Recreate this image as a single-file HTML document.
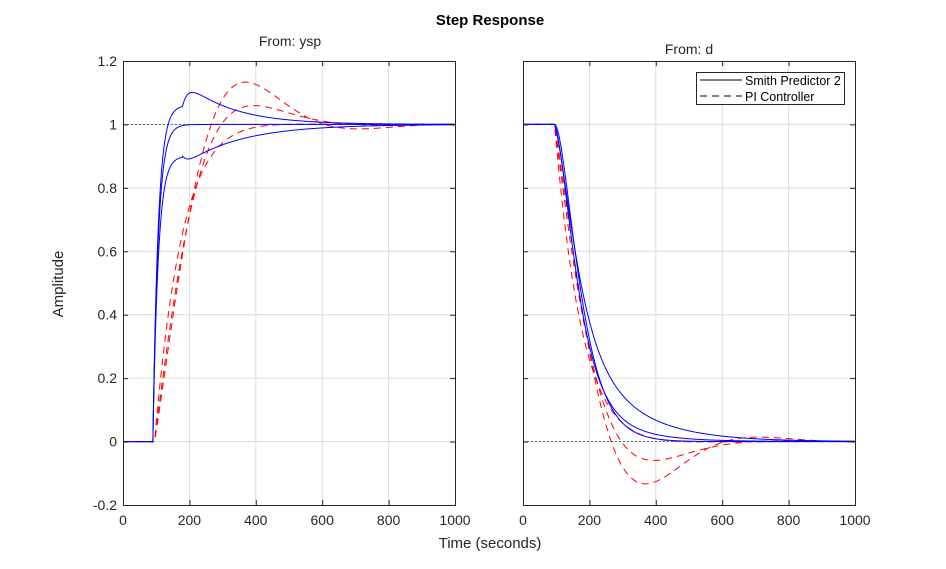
<!DOCTYPE html>
<html><head><meta charset="utf-8"><style>
body{margin:0;background:#fff;}
svg{display:block;font-family:"Liberation Sans",sans-serif;}
</style></head><body>
<svg id="s" width="946" height="569" xmlns="http://www.w3.org/2000/svg">
<rect width="946" height="569" fill="#fff"/>
<g id="grid" stroke="#dcdcdc" stroke-width="1"></g>
<g id="curves" fill="none" stroke-width="1"></g>
<g id="axes" stroke="#262626" stroke-width="1" fill="none"></g>
<g id="labels" font-size="14" fill="#262626"></g>
<text x="490" y="25" text-anchor="middle" font-size="15" font-weight="bold" fill="#000">Step Response</text>
<text x="290" y="46" text-anchor="middle" font-size="14" fill="#262626">From: ysp</text>
<text x="689" y="54" text-anchor="middle" font-size="14" fill="#262626">From: d</text>
<text x="490" y="548" text-anchor="middle" font-size="15" fill="#262626">Time (seconds)</text>
<text transform="translate(63,284) rotate(-90)" text-anchor="middle" font-size="15" fill="#262626">Amplitude</text>
<g>
<rect x="696.5" y="72.5" width="148" height="32" fill="#fff" stroke="#262626"/>
<line x1="700" y1="80" x2="742" y2="80" stroke="#000"/>
<line x1="700" y1="96" x2="742" y2="96" stroke="#000" stroke-dasharray="7,5"/>
<text x="745" y="85" font-size="12.5" fill="#000">Smith Predictor 2</text>
<text x="745" y="101" font-size="12.5" fill="#000">PI Controller</text>
</g>
</svg>
<script>
var NS="http://www.w3.org/2000/svg";
function el(p,t,a,txt){var e=document.createElementNS(NS,t);for(var k in a)e.setAttribute(k,a[k]);if(txt!==undefined)e.textContent=txt;document.getElementById(p).appendChild(e);return e;}
var Y0=61,Y1=505;
function Y(v){return Y1-(v+0.2)/1.4*(Y1-Y0);}
var axs=[123,523],W=332;
function X(i,t){return axs[i]+t/1000*W;}
axs.forEach(function(ax,i){
  for(var t=200;t<1000;t+=200){var x=X(i,t);el("grid","line",{x1:x,y1:Y0,x2:x,y2:Y1});}
  for(var v=0;v<1.2;v+=0.2){var y=Y(v);el("grid","line",{x1:ax,y1:y,x2:ax+W,y2:y});}
  el("axes","rect",{x:ax+0.5,y:Y0+0.5,width:W,height:Y1-Y0});
  for(var t=0;t<=1000;t+=200){var x=X(i,t)+0.5;el("axes","line",{x1:x,y1:Y1,x2:x,y2:Y1-5});el("axes","line",{x1:x,y1:Y0,x2:x,y2:Y0+5});
    el("labels","text",{x:X(i,t),y:525,"text-anchor":"middle"},String(t));}
  for(var k=-1;k<=6;k++){var v=k*0.2,y=Y(v)+0.5;el("axes","line",{x1:ax,y1:y,x2:ax+5,y2:y});el("axes","line",{x1:ax+W,y1:y,x2:ax+W-5,y2:y});
    if(i==0){var s=(Math.abs(v-Math.round(v))<1e-9)?String(Math.round(v)):v.toFixed(1);el("labels","text",{x:117,y:Y(v)+5,"text-anchor":"end"},s);}}
});
el("curves","line",{x1:X(0,0),y1:Y(1),x2:X(0,1000),y2:Y(1),stroke:"#555","stroke-dasharray":"2,2","stroke-width":0.8});
el("curves","line",{x1:X(1,0),y1:Y(0),x2:X(1,1000),y2:Y(0),stroke:"#555","stroke-dasharray":"2,2","stroke-width":0.8});
function path(i,f,col,dash){var d="";for(var t=0;t<=1000;t+=1){d+=(t?"L":"M")+X(i,t).toFixed(2)+","+Y(f(t)).toFixed(2);}
  var a={d:d,stroke:col};if(dash)a["stroke-dasharray"]="7,5";el("curves","path",a);}
function E(x){return Math.exp(x);}
var bA=function(t){var s=t-90;return s<0?0:1-E(-s/16);};
var bB=function(t){var s=t-90;if(s<0)return 0;var u=s-90;if(u<0)return 1.06*(1-E(-s/16));return 1+(0.06+0.08*(1-E(-u/18)))*E(-u/140);};
var bC=function(t){var s=t-90;if(s<0)return 0;var u=s-90;if(u<0)return 0.9*(1-E(-s/16));return 1-(0.1+0.03*(1-E(-u/15)))*E(-u/170);};
function rf(sg,w,t){var s=t-95;if(s<0)return 1;return E(-sg*s)*Math.cos(w*s);}
var r1=function(t){return rf(0.0066,0.0092,t);},r2=function(t){return rf(0.0082,0.0078,t);},r3=function(t){return rf(0.012,0.004,t);};
[r1,r2,r3].forEach(function(f){path(0,function(t){return 1-f(t);},"#f00",true);});
[bA,bB,bC].forEach(function(f){path(0,f,"#00f",false);});
function g(s,tau){return (1+s/tau)*E(-s/tau);}
var d1=function(t){var s=t-95;return s<0?1:g(s,45);};
var d2=function(t){var s=t-95;return s<0?1:0.75*g(s,40)+0.25*E(-s/120);};
var d3=function(t){var s=t-95;return s<0?1:0.5*g(s,40)+0.5*E(-s/150);};
[r1,r2,r3].forEach(function(f){path(1,f,"#f00",true);});
[d1,d2,d3].forEach(function(f){path(1,f,"#00f",false);});
</script>
</body></html>
